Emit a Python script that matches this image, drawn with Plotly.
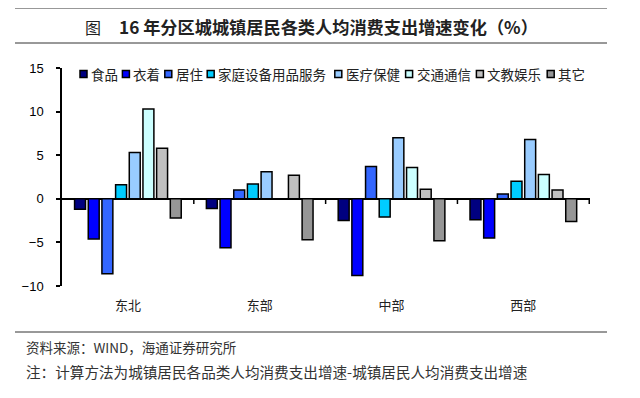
import plotly.graph_objects as go

regions = ["东北", "东部", "中部", "西部"]
series_names = ["食品", "衣着", "居住", "家庭设备用品服务", "医疗保健", "交通通信", "文教娱乐", "其它"]
food = [-1.2, -1.1, -2.5, -2.4]
clothing = [-4.6, -5.6, -8.8, -4.5]
housing = [-8.6, 1.0, 3.7, 0.55]
household = [1.6, 1.7, -2.1, 2.0]
medical = [5.3, 3.1, 7.0, 6.8]
transport = [10.3, 0.0, 3.6, 2.8]
education = [5.8, 2.7, 1.1, 1.0]
other = [-2.2, -4.7, -4.8, -2.6]
y_ticks = [-10, -5, 0, 5, 10, 15]

series_values = [food, clothing, housing, household, medical, transport, education, other]
colors = ["#000080", "#0000FF", "#3366FF", "#00CCFF", "#99CCFF", "#CCFFFF", "#C0C0C0", "#969696"]

OFF = 8  # page body margin
W, H = 640 - OFF, 398 - OFF
L, R, T, B = 62 - OFF, 590 - OFF, 68 - OFF, 286 - OFF

CJK = "Noto Sans CJK SC"
fig = go.Figure()
for name, vals, c in zip(series_names, series_values, colors):
    fig.add_trace(go.Bar(x=regions, y=vals, name=name, marker=dict(color=c, line=dict(color="black", width=1.5)),
                         showlegend=False))

fig.update_layout(
    width=W, height=H,
    margin=dict(l=L, r=W - R, t=T, b=H - B, autoexpand=False),
    paper_bgcolor="white", plot_bgcolor="white",
    barmode="group", bargap=0.17, bargroupgap=0.2,
    font=dict(family="Liberation Sans", color="black"),
)
fig.update_xaxes(showline=False, showgrid=False, zeroline=False, ticks="",
                 ticklabelstandoff=10,
                 tickfont=dict(family=CJK, size=13, color="#222"))
fig.update_yaxes(range=[-10, 15], tickvals=y_ticks, showgrid=False,
                 showline=True, linecolor="black", linewidth=1.5,
                 ticks="outside", ticklen=4, tickcolor="black", tickwidth=1.5,
                 ticklabelstandoff=10,
                 zeroline=True, zerolinecolor="black", zerolinewidth=1.5,
                 tickfont=dict(family="Liberation Sans", size=13, color="black"))

shapes = []
annotations = []

# reference-pixel -> paper coordinates
def px_x(px):
    return (px - OFF - L) / (R - L)

def px_y(py):
    return (B - (py - OFF)) / (B - T)

# boundary ticks on zero line
for i in range(len(regions)):
    shapes.append(dict(type="line", xref="x", yref="y", x0=i + 0.5, x1=i + 0.5, y0=0, y1=-0.6,
                       line=dict(color="black", width=1.5)))

# custom legend
x = 80
ly = 74
cw = 14.2
for name, c in zip(series_names, colors):
    shapes.append(dict(type="rect", xref="paper", yref="paper",
                       x0=px_x(x), x1=px_x(x + 7), y0=px_y(ly + 3.5), y1=px_y(ly - 3.5),
                       fillcolor=c, line=dict(color="black", width=1.5)))
    annotations.append(dict(text=name, xref="paper", yref="paper", x=px_x(x + 9), y=px_y(ly),
                            xanchor="left", yanchor="middle", showarrow=False,
                            font=dict(family=CJK, size=13.5, color="#222")))
    x = x + 9 + len(name) * cw + 5

# horizontal rules
for py in [8, 43, 332]:
    shapes.append(dict(type="line", xref="paper", yref="paper", x0=px_x(15), x1=px_x(607),
                       y0=px_y(py), y1=px_y(py), line=dict(color="#333", width=1)))

annotations.append(dict(text="图", xref="paper", yref="paper", x=px_x(83), y=px_y(27),
                        xanchor="left", yanchor="middle", showarrow=False,
                        font=dict(family=CJK, size=16, color="#222")))
annotations.append(dict(text="<b>16 年分区城城镇居民各类人均消费支出增速变化（%）</b>", xref="paper", yref="paper",
                        x=px_x(117), y=px_y(27), xanchor="left", yanchor="middle", showarrow=False,
                        font=dict(family=CJK, size=17.2, color="#222")))
annotations.append(dict(text="资料来源：WIND，海通证券研究所", xref="paper", yref="paper",
                        x=px_x(24), y=px_y(347), xanchor="left", yanchor="middle", showarrow=False,
                        font=dict(family=CJK, size=13.5, color="#333")))
annotations.append(dict(text="注：计算方法为城镇居民各品类人均消费支出增速-城镇居民人均消费支出增速", xref="paper", yref="paper",
                        x=px_x(24), y=px_y(371), xanchor="left", yanchor="middle", showarrow=False,
                        font=dict(family=CJK, size=14.6, color="#333")))

fig.update_layout(shapes=shapes, annotations=annotations)
fig.write_html("out.html")
